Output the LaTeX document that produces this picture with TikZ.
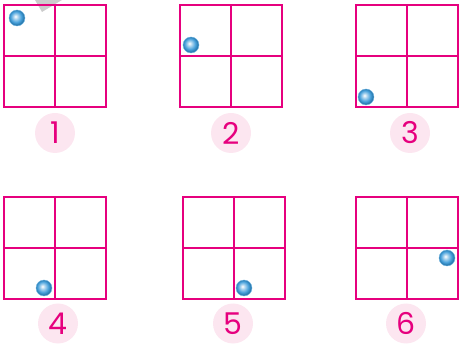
\documentclass[tikz,border=0pt]{standalone}
\usepackage{fontspec}
\setmainfont{Poppins}
\usepackage{xcolor}
\usepackage{tikz}
\usetikzlibrary{positioning}
\definecolor{gridpink}{RGB}{230,0,126}
\definecolor{labelbg}{RGB}{252,230,240}
\definecolor{ballblue}{RGB}{50,150,215}
\pgfdeclareradialshading{glassball}{\pgfpoint{-5bp}{5bp}}{%
    color(0bp)=(white); color(8bp)=(ballblue!45!white); color(17bp)=(ballblue!90!white);
    color(24bp)=(ballblue!80!black); color(50bp)=(ballblue!80!black)}

\tikzset{
    grid2/.style={draw=gridpink, line width=1.5pt},
    ball/.style={circle, minimum size=16pt, inner sep=0pt, shading=glassball, draw=ballblue!70!white, line width=0.4pt},
    numlabel/.style={circle, fill=labelbg, minimum size=40pt, inner sep=0pt, text=gridpink, font=\fontsize{30}{30}\selectfont}
}

\begin{document}
\begin{tikzpicture}[x=1pt, y=-1pt]
    \useasboundingbox (0,0) rectangle (460,344);
    % grey corner left over at the top
    \fill[gray!40] (35,0) -- (62,0) -- (42,12) -- cycle;
    % panel: number / grid corner / ball / label
    \foreach \n/\gx/\gy/\bx/\by/\lx/\ly in {1/4/5/17/18/55/133, 2/180/5/191/45/231/133, 3/356/5/366/97/410/133,
                                             4/4/197/44/288/58/323.5, 5/183/197/244/288/233/323.5, 6/356/197/447/258/406/323.5} {
        \draw[grid2] (\gx,\gy) rectangle ++(102,102);
        \draw[grid2] (\gx+51,\gy) -- ++(0,102) (\gx,\gy+51) -- ++(102,0);
        \node[ball] (ball\n) at (\bx,\by) {};
        \node[numlabel] (label\n) at (\lx,\ly) {\n};
    }
\end{tikzpicture}
\end{document}
